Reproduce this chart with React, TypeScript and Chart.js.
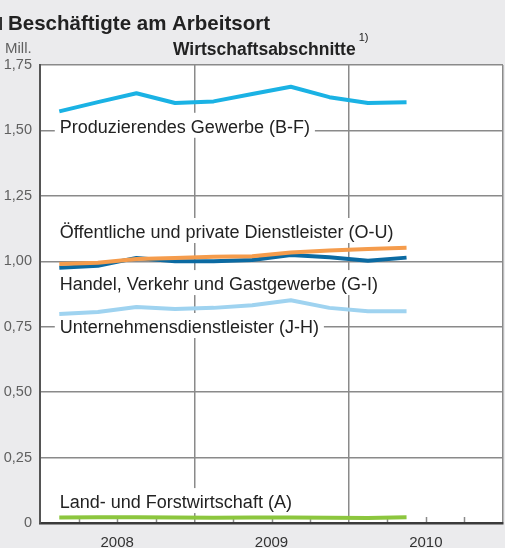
import { useEffect, useRef } from 'react';
import { Chart, registerables } from 'chart.js';

Chart.register(...registerables);

const FONT = '"Liberation Sans", Arial, Helvetica, sans-serif';

// Quarters 2008 I .. 2010 II
const quarters = ['2008 I', '2008 II', '2008 III', '2008 IV', '2009 I', '2009 II', '2009 III', '2009 IV', '2010 I', '2010 II'];
const yearLabels = ['2008', '2009', '2010'];
const yTickLabels = ['0', '0,25', '0,50', '0,75', '1,00', '1,25', '1,50', '1,75'];

const produzierendes = [1.573, 1.608, 1.642, 1.605, 1.611, 1.639, 1.667, 1.627, 1.605, 1.608];
const oeffentliche = [0.990, 0.994, 1.009, 1.013, 1.017, 1.019, 1.034, 1.041, 1.047, 1.052];
const handel = [0.975, 0.983, 1.013, 1.000, 1.000, 1.005, 1.024, 1.015, 1.002, 1.014];
const unternehmens = [0.799, 0.806, 0.825, 0.818, 0.822, 0.832, 0.851, 0.822, 0.809, 0.809];
const land = [0.021, 0.022, 0.022, 0.021, 0.020, 0.021, 0.021, 0.020, 0.019, 0.022];

const seriesNames = [
  'Produzierendes Gewerbe (B-F)',
  'Öffentliche und private Dienstleister (O-U)',
  'Handel, Verkehr und Gastgewerbe (G-I)',
  'Unternehmensdienstleister (J-H)',
  'Land- und Forstwirtschaft (A)',
];
// baseline anchors of the in-plot labels (in axis units)
const labelAnchors = [1.491, 1.089, 0.890, 0.726, 0.057];

const toPoints = (vals: number[]) => vals.map((v, i) => ({ x: i + 0.5, y: v, q: quarters[i] }));

export default function App() {
  const ref = useRef<HTMLCanvasElement>(null);

  useEffect(() => {
    const canvas = ref.current!;
    const decor = {
      id: 'decor',
      beforeDraw(chart: any) {
        const { ctx, chartArea } = chart;
        ctx.save();
        ctx.fillStyle = '#ffffff';
        ctx.fillRect(chartArea.left, chartArea.top, chartArea.right - chartArea.left, chartArea.bottom - chartArea.top);
        ctx.restore();
      },
      beforeDatasetsDraw(chart: any) {
        const { ctx, chartArea } = chart;
        const xs = chart.scales.x;
        const ys = chart.scales.y;
        ctx.save();
        // quarter tick marks
        ctx.strokeStyle = '#8a8a8a';
        ctx.lineWidth = 1.5;
        for (let q = 1; q < 12; q++) {
          if (q % 4 === 0) continue;
          const px = Math.round(xs.getPixelForValue(q)) + 0.5;
          ctx.beginPath();
          ctx.moveTo(px, chartArea.bottom - 6);
          ctx.lineTo(px, chartArea.bottom - 1);
          ctx.stroke();
        }
        // series labels with white boxes
        ctx.font = `18px ${FONT}`;
        ctx.textBaseline = 'alphabetic';
        ctx.textAlign = 'left';
        const x0 = xs.getPixelForValue(0.5) + 0.5;
        seriesNames.forEach((t, i) => {
          const yb = ys.getPixelForValue(labelAnchors[i]);
          const w = ctx.measureText(t).width;
          ctx.fillStyle = '#ffffff';
          ctx.fillRect(x0 - 5, yb - 20, w + 10, 25);
          ctx.fillStyle = '#222222';
          ctx.fillText(t, x0, yb);
        });
        ctx.restore();
      },
      afterDraw(chart: any) {
        const { ctx } = chart;
        ctx.save();
        ctx.textBaseline = 'alphabetic';
        ctx.textAlign = 'left';
        ctx.fillStyle = '#333';
        ctx.fillRect(0, 17, 2, 13);
        ctx.fillStyle = '#222222';
        ctx.font = `bold 20.5px ${FONT}`;
        ctx.fillText('Beschäftigte am Arbeitsort', 8, 30);
        ctx.font = `bold 17.5px ${FONT}`;
        ctx.fillText('Wirtschaftsabschnitte', 173, 55);
        const w = ctx.measureText('Wirtschaftsabschnitte').width;
        ctx.font = `11px ${FONT}`;
        ctx.fillText('1)', 173 + w + 3, 41);
        ctx.fillStyle = '#606060';
        ctx.font = `15px ${FONT}`;
        ctx.fillText('Mill.', 5, 53);
        ctx.restore();
      },
    };

    const chart = new Chart(canvas, {
      type: 'line',
      data: {
        datasets: [
          { label: seriesNames[0], data: toPoints(produzierendes), borderColor: '#1ab2e4' },
          { label: seriesNames[1], data: toPoints(oeffentliche), borderColor: '#f59c4c' },
          { label: seriesNames[2], data: toPoints(handel), borderColor: '#0b6aa2' },
          { label: seriesNames[3], data: toPoints(unternehmens), borderColor: '#9fd3f0' },
          { label: seriesNames[4], data: toPoints(land), borderColor: '#8cc63e' },
        ],
      },
      options: {
        responsive: false,
        animation: false,
        devicePixelRatio: 1,
        parsing: { xAxisKey: 'x', yAxisKey: 'y' },
        layout: { autoPadding: false, padding: { top: 65, right: 2, left: 0, bottom: 0 } },
        plugins: { legend: { display: false }, tooltip: { enabled: false } },
        elements: {
          point: { radius: 0, hoverRadius: 0 },
          line: { tension: 0, borderWidth: 4, borderCapStyle: 'butt', borderJoinStyle: 'round' },
        },
        scales: {
          x: {
            type: 'linear',
            min: 0,
            max: 12,
            afterFit: (s: any) => { s.height = 25; s.paddingLeft = 0; s.paddingRight = 0; },
            grid: {
              color: (c: any) => (c.tick && c.tick.value % 4 === 0 && c.tick.value !== 0 ? '#8a8a8a' : 'rgba(0,0,0,0)'),
              lineWidth: 1.5,
              drawTicks: false,
            },
            border: { color: '#3a3a3a', width: 2.5 },
            ticks: {
              stepSize: 1,
              autoSkip: false,
              maxRotation: 0,
              padding: 11,
              color: '#333333',
              font: { family: FONT, size: 15 },
              callback: (v: any) => (v % 4 === 2 ? yearLabels[(v - 2) / 4] : ''),
            },
          },
          y: {
            min: 0,
            max: 1.75,
            afterFit: (s: any) => { s.width = 40; s.paddingTop = 0; s.paddingBottom = 0; },
            grid: {
              color: (c: any) => (c.tick && c.tick.value === 0 ? 'rgba(0,0,0,0)' : '#8a8a8a'),
              lineWidth: 1.5,
              drawTicks: false,
            },
            border: { color: '#555555', width: 2 },
            ticks: {
              stepSize: 0.25,
              padding: 8,
              color: '#606060',
              font: { family: FONT, size: 14.5 },
              callback: (_v: any, i: number) => yTickLabels[i],
            },
          },
        },
      },
      plugins: [decor],
    } as any);
    return () => chart.destroy();
  }, []);

  return (
    <div style={{ position: 'fixed', left: 0, top: 0, width: 505, height: 548, background: '#ebebed' }}>
      <canvas ref={ref} width={505} height={548} style={{ display: 'block', width: 505, height: 548 }} />
    </div>
  );
}
